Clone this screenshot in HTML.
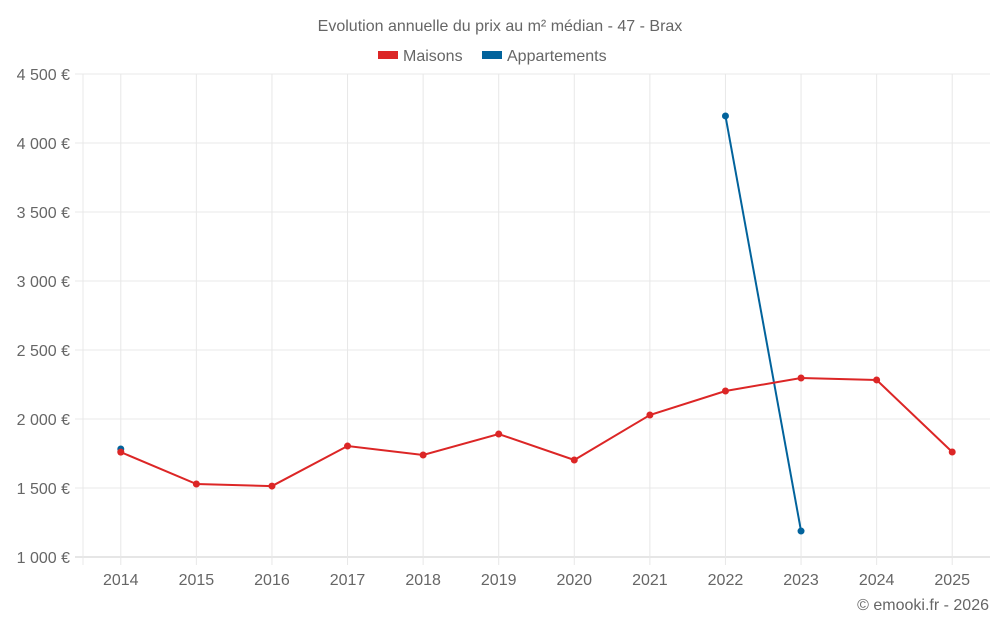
<!DOCTYPE html>
<html><head><meta charset="utf-8"><style>
html,body{margin:0;padding:0;background:#fff;}
svg{display:block;font-family:"Liberation Sans",sans-serif;}
</style></head><body>
<svg id="chart" width="1000" height="625">
<text x="500" y="31" text-anchor="middle" font-size="16" fill="#666">Evolution annuelle du prix au m² médian - 47 - Brax</text>
<g>
<g><rect x="378" y="51" width="20" height="8" fill="#dc2626"/><text x="403" y="61" font-size="16" fill="#666">Maisons</text></g>
<g><rect x="482" y="51" width="20" height="8" fill="#02639c"/><text x="507" y="61" font-size="16" fill="#666">Appartements</text></g>
</g>
<g id="grid"></g><g id="axes"></g><g id="series"></g>
<text x="989" y="610" text-anchor="end" font-size="16" fill="#666">© emooki.fr - 2026</text>
</svg>
<script>
const categories=["2014","2015","2016","2017","2018","2019","2020","2021","2022","2023","2024","2025"];
const maisons=[1760,1529,1514,1804,1739,1891,1703,2029,2203,2297,2283,1761];
const appartements=[1783,null,null,null,null,null,null,null,4196,1188,null,null];
const yTicks=[1000,1500,2000,2500,3000,3500,4000,4500];
const yTickLabels=["1 000 €","1 500 €","2 000 €","2 500 €","3 000 €","3 500 €","4 000 €","4 500 €"];
const L=83,R=990,T=74,B=557,yMin=1000,yMax=4500;
const NS="http://www.w3.org/2000/svg";
const bw=(R-L)/categories.length;
function x(i){return L+bw*(i+0.5);}
function y(v){return B-(v-yMin)/(yMax-yMin)*(B-T);}
function mk(tag,attrs,parent){const e=document.createElementNS(NS,tag);for(const k in attrs)e.setAttribute(k,attrs[k]);parent.appendChild(e);return e;}
const grid=document.getElementById('grid'),axes=document.getElementById('axes'),series=document.getElementById('series');
yTicks.forEach((t,i)=>{
 const l=mk('line',{x1:L-8,x2:R,y1:y(t),y2:y(t),stroke:i===0?'#ccc':'#e8e8e8','stroke-width':1},grid);
 
 
 const tx=mk('text',{x:L-13,y:y(t)+6,'text-anchor':'end','font-size':16,fill:'#666'},axes);
 tx.textContent=yTickLabels[i];
 
 
});
const la=mk('line',{x1:L,x2:L,y1:T,y2:B+8,stroke:'#e8e8e8'},grid);


categories.forEach((c,i)=>{
 const l=mk('line',{x1:x(i),x2:x(i),y1:T,y2:B+8,stroke:'#e8e8e8'},grid);
 
 
 const tx=mk('text',{x:x(i),y:585,'text-anchor':'middle','font-size':16,fill:'#666'},axes);
 tx.textContent=c;
 
 
});
function draw(vals,color,name){
 let segs=[],cur=[];
 vals.forEach((v,i)=>{if(v==null){if(cur.length)segs.push(cur);cur=[];}else cur.push([x(i),y(v)]);});
 if(cur.length)segs.push(cur);
 segs.forEach(s=>{if(s.length>1){const p=mk('polyline',{points:s.map(q=>q.join(',')).join(' '),fill:'none',stroke:color,'stroke-width':2},series);
 
 }});
 vals.forEach((v,i)=>{if(v==null)return;const c=mk('circle',{cx:x(i),cy:y(v),r:3.5,fill:color},series);
 
 });
}
draw(appartements,'#02639c','appartements');
draw(maisons,'#dc2626','maisons');
</script>
</body></html>
